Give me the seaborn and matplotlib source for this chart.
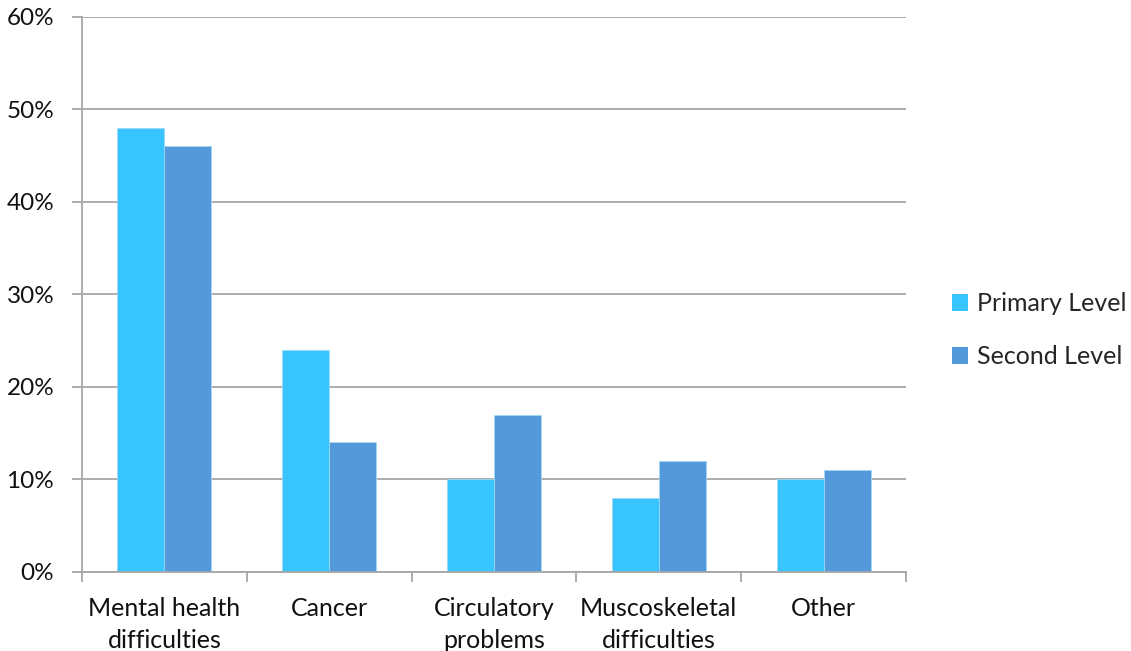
import matplotlib
matplotlib.use("Agg")
import matplotlib.pyplot as plt
from matplotlib.patches import Patch
from matplotlib.ticker import FixedLocator, PercentFormatter
import seaborn as sns
import pandas as pd

categories = ["Mental health\ndifficulties", "Cancer", "Circulatory\nproblems",
              "Muscoskeletal\ndifficulties", "Other"]
series_names = ["Primary Level", "Second Level"]
primary_level = [48, 24, 10, 8, 10]
second_level = [46, 14, 17, 12, 11]
y_ticks = [0, 10, 20, 30, 40, 50, 60]
colors = ["#38C5FF", "#5499DA"]

df = pd.DataFrame({
    "category": categories * 2,
    "series": [series_names[0]] * len(categories) + [series_names[1]] * len(categories),
    "value": primary_level + second_level,
})

sns.set_theme(style="white")
plt.rcParams["font.family"] = ["Lato", "DejaVu Sans"]

fig = plt.figure(figsize=(11.31, 6.51), dpi=100)
ax = fig.add_axes([0.0725, 0.1214, 0.7285, 0.8525])

sns.barplot(data=df, x="category", y="value", hue="series", order=categories,
            hue_order=series_names, palette=colors, width=0.57, ax=ax,
            legend=False, saturation=1, edgecolor="#9fd8f5", linewidth=0.6)

ax.set_xlim(-0.5, len(categories) - 0.5)
ax.set_ylim(0, 60)
ax.set_yticks(y_ticks)
ax.yaxis.set_major_formatter(PercentFormatter(decimals=0))
ax.grid(axis="y", color="#a6a6a6", linewidth=1.3)
ax.set_axisbelow(True)

for side in ["top", "right"]:
    ax.spines[side].set_visible(False)
for side in ["left", "bottom"]:
    ax.spines[side].set_color("#a6a6a6")
    ax.spines[side].set_linewidth(1.3)

ax.set_xlabel("")
ax.set_ylabel("")
ax.tick_params(axis="x", which="major", length=0, pad=18, labelsize=18, labelcolor="#111111")
ax.xaxis.set_minor_locator(FixedLocator([i - 0.5 for i in range(len(categories) + 1)]))
ax.tick_params(axis="x", which="minor", length=7, width=1.3, color="#a6a6a6", direction="out", bottom=True)
ax.tick_params(axis="y", which="major", length=7, width=1.3, color="#a6a6a6", direction="out",
               left=True, pad=13, labelsize=17.5, labelcolor="#111111")
for lab in ax.get_xticklabels():
    lab.set_linespacing(1.45)

handles = [Patch(facecolor=c, edgecolor="none") for c in colors]
fig.legend(handles, series_names, loc="center left", bbox_to_anchor=(0.8305, 0.493),
           frameon=False, fontsize=18, handlelength=0.65, handleheight=0.65,
           handletextpad=0.35, labelspacing=1.2, borderpad=0.0)

fig.savefig("out.png", dpi=100)
